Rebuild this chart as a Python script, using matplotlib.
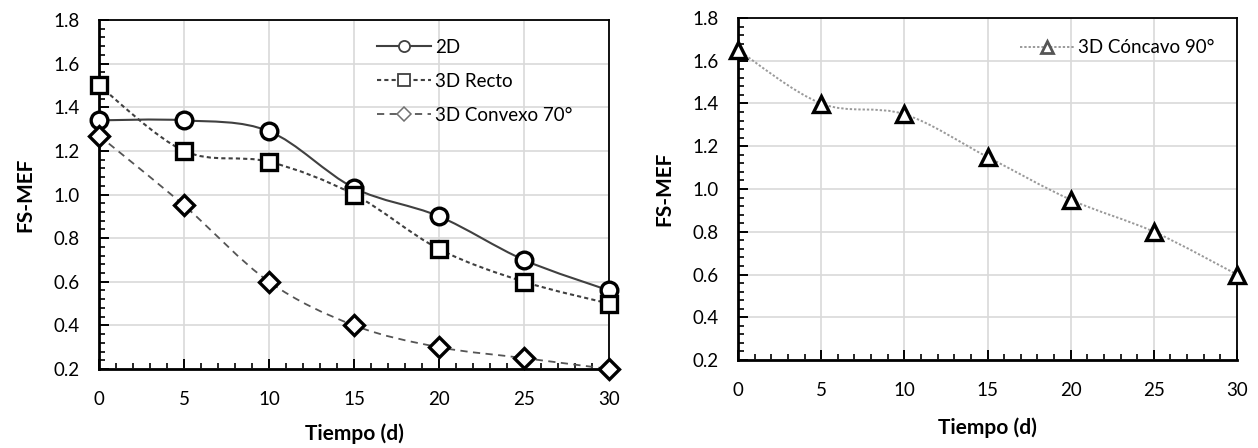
import matplotlib
matplotlib.use("Agg")
import matplotlib.pyplot as plt
from matplotlib.path import Path
from matplotlib.patches import PathPatch
from matplotlib.lines import Line2D
from matplotlib.ticker import MultipleLocator, FormatStrFormatter
import numpy as np

plt.rcParams['font.family'] = ['Lato', 'DejaVu Sans']

tiempo = [0, 5, 10, 15, 20, 25, 30]
fs_2d = [1.34, 1.34, 1.29, 1.03, 0.90, 0.70, 0.56]
fs_3d_recto = [1.50, 1.20, 1.15, 1.00, 0.75, 0.60, 0.50]
fs_3d_convexo = [1.27, 0.95, 0.60, 0.40, 0.30, 0.25, 0.20]
fs_3d_concavo = [1.65, 1.40, 1.35, 1.15, 0.95, 0.80, 0.60]

label_2d = "2D"
label_recto = "3D Recto"
label_convexo = "3D Convexo 70°"
label_concavo = "3D Cóncavo 90°"
xlabel = "Tiempo (d)"
ylabel = "FS-MEF"


def smooth_path(x, y):
    """Excel-style smoothed line as cubic Bezier through the data points."""
    pts = np.column_stack([x, y]).astype(float)
    n = len(pts)
    verts = [pts[0]]
    codes = [Path.MOVETO]
    for i in range(n - 1):
        p_prev = pts[i - 1] if i > 0 else pts[i]
        p0 = pts[i]
        p1 = pts[i + 1]
        p_next = pts[i + 2] if i + 2 < n else pts[i + 1]
        c1 = p0 + (p1 - p_prev) / 6.0
        c2 = p1 - (p_next - p0) / 6.0
        verts += [c1, c2, p1]
        codes += [Path.CURVE4] * 3
    return Path(verts, codes)


def draw_series(ax, x, y, color, ls, lw, marker, ms=12):
    patch = PathPatch(smooth_path(x, y), facecolor='none', edgecolor=color,
                      linestyle=ls, linewidth=lw, zorder=3)
    ax.add_patch(patch)
    ax.plot(x, y, linestyle='none', marker=marker, markersize=ms,
            markerfacecolor='white', markeredgecolor='black',
            markeredgewidth=2.4, zorder=4, clip_on=False)


def style_axes(ax, xpad):
    ax.set_xlim(0, 30)
    ax.set_ylim(0.2, 1.8)
    ax.xaxis.set_major_locator(MultipleLocator(5))
    ax.xaxis.set_minor_locator(MultipleLocator(1))
    ax.yaxis.set_major_locator(MultipleLocator(0.2))
    ax.yaxis.set_minor_locator(MultipleLocator(0.04))
    ax.yaxis.set_major_formatter(FormatStrFormatter('%.1f'))
    ax.grid(True, which='major', color='#d9d9d9', linewidth=1.2)
    ax.set_axisbelow(True)
    for s in ax.spines.values():
        s.set_color('black')
        s.set_linewidth(1.3)
    ax.spines['left'].set_linewidth(2.0)
    ax.spines['bottom'].set_linewidth(2.0)
    ax.tick_params(axis='both', which='both', direction='in', top=False,
                   right=False, colors='black', labelsize=13.5)
    ax.tick_params(axis='both', which='major', length=7, width=1.4)
    ax.tick_params(axis='both', which='minor', length=4, width=1.2)
    ax.tick_params(axis='x', which='major', pad=16)
    ax.tick_params(axis='y', which='major', pad=14)
    ax.set_xlabel(xlabel, fontsize=15, fontweight='bold', labelpad=xpad)
    ax.set_ylabel(ylabel, fontsize=15, fontweight='bold', labelpad=13)


fig = plt.figure(figsize=(12.58, 4.48), dpi=100)
ax1 = fig.add_axes([99 / 1258, 1 - 369 / 448, (609 - 99) / 1258, (369 - 20) / 448])
ax2 = fig.add_axes([738 / 1258, 1 - 360 / 448, (1237 - 738) / 1258, (360 - 18) / 448])

style_axes(ax1, 11)
style_axes(ax2, 13)

draw_series(ax1, tiempo, fs_2d, '#404040', '-', 1.5, 'o')
draw_series(ax1, tiempo, fs_3d_recto, '#404040', (0, (2, 1.5)), 1.5, 's', 11.5)
draw_series(ax1, tiempo, fs_3d_convexo, '#555555', (0, (4, 3)), 1.3, 'D', 10.5)
draw_series(ax2, tiempo, fs_3d_concavo, '#9a9a9a', (0, (1.2, 1.0)), 1.4, '^')

h1 = [
    Line2D([], [], color='#404040', ls='-', lw=1.5, marker='o', ms=8,
           mfc='white', mec='#404040', mew=1.3, label=label_2d),
    Line2D([], [], color='#404040', ls=(0, (2, 1.5)), lw=1.5, marker='s', ms=8,
           mfc='white', mec='#404040', mew=1.3, label=label_recto),
    Line2D([], [], color='#555555', ls=(0, (4, 3)), lw=1.3, marker='D', ms=7,
           mfc='white', mec='#707070', mew=1.1, label=label_convexo),
]
ax1.legend(handles=h1, loc='upper left', bbox_to_anchor=(0.53, 0.967),
           frameon=False, fontsize=13.5, handlelength=2.9,
           handletextpad=0.2, labelspacing=0.9, borderaxespad=0)

h2 = [
    Line2D([], [], color='#9a9a9a', ls=(0, (1.2, 1.0)), lw=1.4, marker='^', ms=9,
           mfc='white', mec='#555555', mew=2.0, label=label_concavo),
]
ax2.legend(handles=h2, loc='upper left', bbox_to_anchor=(0.55, 0.96),
           frameon=False, fontsize=13.5, handlelength=2.9,
           handletextpad=0.2, borderaxespad=0)

fig.savefig('out.png', dpi=100)
